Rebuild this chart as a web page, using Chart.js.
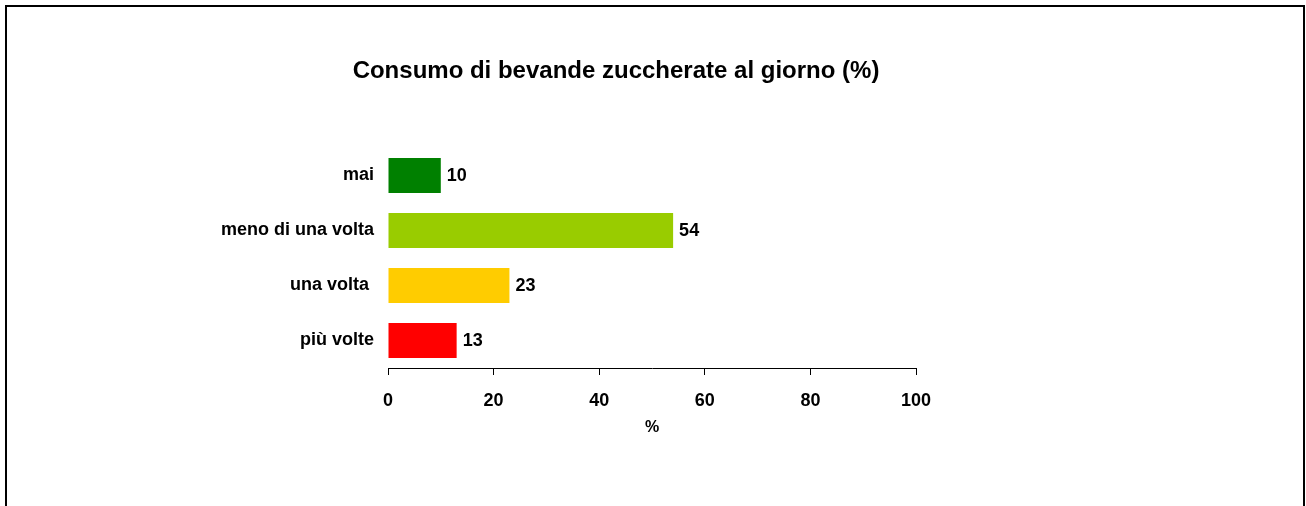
<!DOCTYPE html>
<html>
<head>
<meta charset="utf-8">
<script src="https://cdn.jsdelivr.net/npm/chart.js@4"></script>
<style>
  html, body { margin: 0; padding: 0; background: #fff; }
  body { width: 1306px; height: 506px; overflow: hidden; position: relative; }
  #frame { position: absolute; left: 5px; top: 5px; width: 1296px; height: 530px; border: 2px solid #000; }
  #wrap { position: absolute; left: 0; top: 0; width: 1306px; height: 506px; }
</style>
</head>
<body>
<div id="frame"></div>
<div id="wrap"><canvas id="chart" width="1306" height="506"></canvas></div>
<script>
const chartTitle = 'Consumo di bevande zuccherate al giorno (%)';
const categories = ['mai', 'meno di una volta', 'una volta ', 'più volte'];
const values = [10, 54, 23, 13];
const barColors = ['#008000', '#99cc00', '#ffcc00', '#ff0000'];
const xTicks = [0, 20, 40, 60, 80, 100];
const xTitle = '%';

const FONT = '"Liberation Sans", Arial, sans-serif';

// title drawn at a fixed spot, a bit left of the plot centre as in the original
const titlePlugin = {
    id: 'fixedTitle',
    afterDraw(chart) {
        const ctx = chart.ctx;
        ctx.save();
        ctx.font = 'bold 24px ' + FONT;
        ctx.fillStyle = '#000';
        ctx.textAlign = 'center';
        ctx.textBaseline = 'middle';
        ctx.fillText(chartTitle, 616, 71);
        ctx.restore();
    }
};

const valueLabels = {
    id: 'valueLabels',
    afterDatasetsDraw(chart) {
        const ctx = chart.ctx;
        const meta = chart.getDatasetMeta(0);
        ctx.save();
        ctx.font = 'bold 18px ' + FONT;
        ctx.fillStyle = '#000';
        ctx.textAlign = 'left';
        ctx.textBaseline = 'middle';
        meta.data.forEach((bar, i) => {
            ctx.fillText(String(values[i]), bar.x + 6, bar.y + 1);
        });
        ctx.restore();
    }
};

new Chart(document.getElementById('chart'), {
    type: 'bar',
    data: {
        labels: categories,
        datasets: [{
            data: values,
            backgroundColor: barColors,
            borderWidth: 0,
            barPercentage: 0.636,
            categoryPercentage: 1,
        }]
    },
    options: {
        indexAxis: 'y',
        responsive: false,
        animation: false,
        devicePixelRatio: 1,
        layout: { padding: { left: 200, right: 390, top: 148, bottom: 69 } },
        scales: {
            x: {
                min: 0,
                max: 100,
                afterBuildTicks: (scale) => { scale.ticks = xTicks.map(v => ({ value: v })); },
                afterFit: (scale) => { scale.height = 69; },
                grid: { drawOnChartArea: false, drawTicks: true, tickLength: 7, color: '#000' },
                border: { display: true, color: '#000', width: 1 },
                ticks: { color: '#000', padding: 15, font: { family: FONT, size: 18, weight: 'bold' }, maxRotation: 0 },
                title: { display: true, text: xTitle, color: '#000', padding: 0, font: { family: FONT, size: 16, weight: 'bold' } }
            },
            y: {
                afterFit: (scale) => { scale.width = 188; },
                grid: { display: false, drawTicks: false },
                border: { display: false },
                ticks: { color: '#000', padding: 14, font: { family: FONT, size: 18, weight: 'bold' } }
            }
        },
        plugins: {
            legend: { display: false },
            tooltip: { enabled: false },
            title: { display: false }
        }
    },
    plugins: [titlePlugin, valueLabels]
});
</script>
</body>
</html>
